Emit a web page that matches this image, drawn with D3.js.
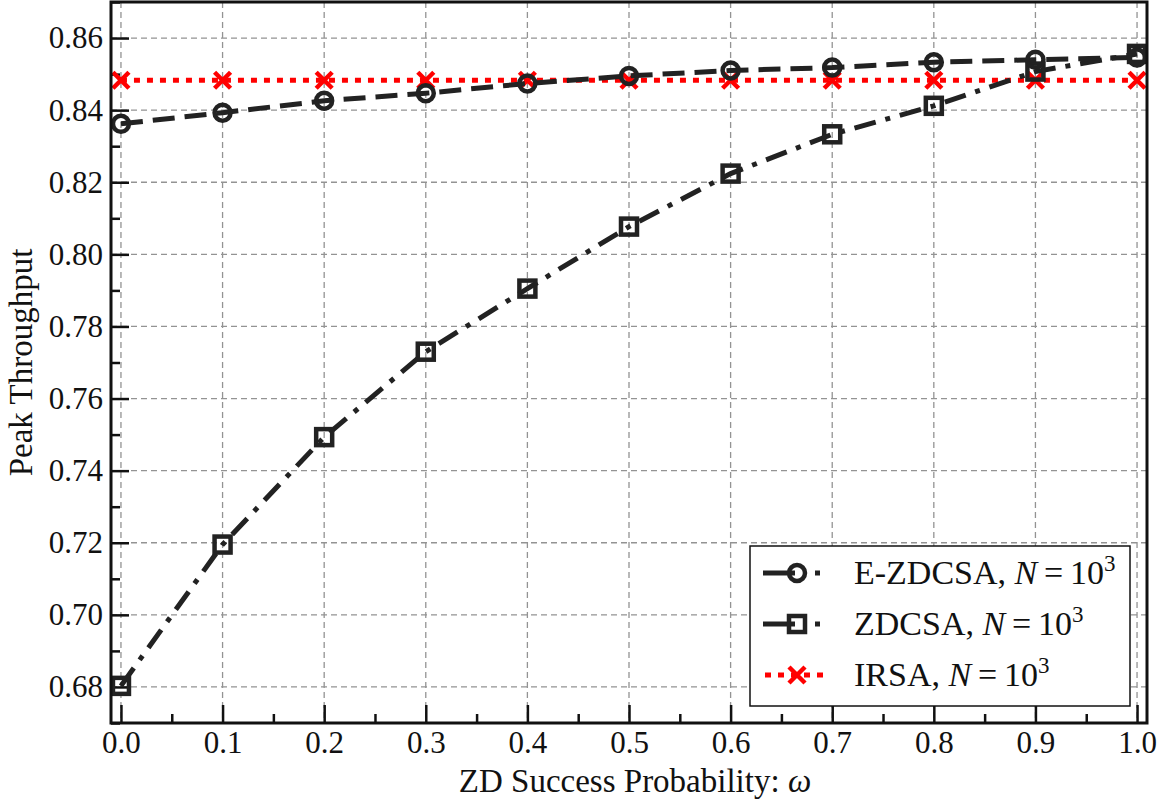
<!DOCTYPE html>
<html>
<head>
<meta charset="utf-8">
<script src="https://cdn.jsdelivr.net/npm/d3@7"></script>
<style>
  body { margin: 0; background: #fff; }
  text { font-family: "Liberation Serif", "DejaVu Serif", serif; }
</style>
</head>
<body>
<svg id="chart" width="1168" height="802"></svg>
<script>
// DATA
const omega = [0.0, 0.1, 0.2, 0.3, 0.4, 0.5, 0.6, 0.7, 0.8, 0.9, 1.0];
const eZdcsa = [0.8362, 0.8393, 0.8426, 0.8447, 0.8474, 0.8495, 0.8510, 0.8518, 0.8533, 0.8540, 0.8546];
const zdcsa = [0.6803, 0.7195, 0.7493, 0.7730, 0.7905, 0.8077, 0.8224, 0.8333, 0.8412, 0.8507, 0.8556];
const irsa = [0.8483, 0.8483, 0.8483, 0.8483, 0.8483, 0.8483, 0.8483, 0.8483, 0.8483, 0.8483, 0.8483];
const xTicks = [0.0, 0.1, 0.2, 0.3, 0.4, 0.5, 0.6, 0.7, 0.8, 0.9, 1.0];
const yTicks = [0.68, 0.70, 0.72, 0.74, 0.76, 0.78, 0.80, 0.82, 0.84, 0.86];

const series = [
  { name: "E-ZDCSA", values: eZdcsa, color: "#222", dash: "22,10", marker: "circle" },
  { name: "ZDCSA", values: zdcsa, color: "#222", dash: "22,10,5,10", marker: "square" },
  { name: "IRSA", values: irsa, color: "#ff0000", dash: "6,7", marker: "cross" },
];

// CANVAS SETUP
const svg = d3.select("#chart");
const margin = { top: 2, right: 21, bottom: 79, left: 111 },
  width = 1168 - margin.left - margin.right,
  height = 802 - margin.top - margin.bottom;

const x = d3.scaleLinear().domain([-0.0098, 1.0098]).range([0, width]);
const y = d3.scaleLinear().domain([0.67, 0.87]).range([height, 0]);

const g = svg.append("g").attr("transform", `translate(${margin.left},${margin.top})`);

// GRID
g.append("g")
  .selectAll("line")
  .data(xTicks)
  .join("line")
  .attr("x1", (d) => x(d))
  .attr("x2", (d) => x(d))
  .attr("y1", 0)
  .attr("y2", height)
  .attr("stroke", "#939393")
  .attr("stroke-width", 1.3)
  .attr("stroke-dasharray", "6,4");

g.append("g")
  .selectAll("line")
  .data(yTicks)
  .join("line")
  .attr("x1", 0)
  .attr("x2", width)
  .attr("y1", (d) => y(d))
  .attr("y2", (d) => y(d))
  .attr("stroke", "#939393")
  .attr("stroke-width", 1.3)
  .attr("stroke-dasharray", "6,4");

// AXES (inward ticks)
const xMinor = d3.range(0, 1.001, 0.05).filter((v) => Math.round(v * 100) % 10 !== 0);
const yMinor = d3.range(0.67, 0.8701, 0.01).filter((v) => Math.round(v * 100) % 2 !== 0);

const xAxis = g.append("g").attr("transform", `translate(0,${height})`)
  .call(d3.axisBottom(x).tickValues(xTicks).tickFormat(d3.format(".1f")).tickSize(-18).tickPadding(8));
const xAxisMinor = g.append("g").attr("transform", `translate(0,${height})`)
  .call(d3.axisBottom(x).tickValues(xMinor).tickFormat("").tickSize(-9));
const yAxis = g.append("g")
  .call(d3.axisLeft(y).tickValues(yTicks).tickFormat(d3.format(".2f")).tickSize(-18).tickPadding(8));
const yAxisMinor = g.append("g")
  .call(d3.axisLeft(y).tickValues(yMinor).tickFormat("").tickSize(-9));

[xAxis, xAxisMinor, yAxis, yAxisMinor].forEach((ax) => {
  ax.attr("font-size", null).attr("font-family", null);
  ax.select(".domain").remove();
  ax.selectAll(".tick line").attr("stroke", "#111").attr("stroke-width", 2.5);
  ax.selectAll(".tick text").attr("fill", "#111").attr("font-size", 31);
});
yAxis.selectAll(".tick text").attr("x", -8);
xAxis.selectAll(".tick text").attr("dy", "0.71em");

// LINES
const line = d3.line()
  .x((d, i) => x(omega[i]))
  .y((d) => y(d));

function drawMarker(sel, type, color) {
  if (type === "circle") {
    sel.append("circle").attr("r", 8).attr("fill", "none")
      .attr("stroke", color).attr("stroke-width", 4.5);
  } else if (type === "square") {
    sel.append("rect").attr("x", -8).attr("y", -8).attr("width", 16).attr("height", 16)
      .attr("fill", "none").attr("stroke", color).attr("stroke-width", 4.5);
  } else {
    sel.append("path").attr("d", "M-8,-8L8,8M-8,8L8,-8")
      .attr("fill", "none").attr("stroke", color).attr("stroke-width", 4.5);
  }
}

const plot = g.append("g");
series.slice().reverse().forEach((s) => {
  plot.append("path")
    .datum(s.values)
    .attr("d", line)
    .attr("fill", "none")
    .attr("stroke", s.color)
    .attr("stroke-width", 5)
    .attr("stroke-dasharray", s.dash);
  plot.append("g")
    .selectAll("g")
    .data(s.values)
    .join("g")
    .attr("transform", (d, i) => `translate(${x(omega[i])},${y(d)})`)
    .each(function () { drawMarker(d3.select(this), s.marker, s.color); });
});

// FRAME
g.append("rect")
  .attr("width", width)
  .attr("height", height)
  .attr("fill", "none")
  .attr("stroke", "#111")
  .attr("stroke-width", 3);

// LEGEND
const legend = g.append("g").attr("transform", `translate(${750 - margin.left},${546 - margin.top})`);
legend.append("rect")
  .attr("width", 380)
  .attr("height", 160)
  .attr("fill", "#fff")
  .attr("stroke", "#111")
  .attr("stroke-width", 1.5);

const rows = legend.selectAll("g.row")
  .data(series)
  .join("g")
  .attr("class", "row")
  .attr("transform", (d, i) => `translate(0,${27 + i * 51})`);

rows.append("line")
  .attr("x1", (d) => d.marker === "cross" ? 15 : 13)
  .attr("x2", 78)
  .attr("stroke", (d) => d.color)
  .attr("stroke-width", 5)
  .attr("stroke-dasharray", (d) => d.marker === "cross" ? "6,7" : "32,20,5,8");
rows.each(function (d) {
  const m = d3.select(this).append("g").attr("transform", "translate(47,0)");
  drawMarker(m, d.marker, d.color);
});

const labels = rows.append("text")
  .attr("x", 104)
  .attr("y", 11)
  .attr("fill", "#111")
  .attr("font-size", 34);
labels.append("tspan").text((d) => d.name + ", ");
labels.append("tspan").attr("font-style", "italic").text("N");
labels.append("tspan").text("\u2009=\u200910");
labels.append("tspan").attr("dy", -13).attr("font-size", 23).text("3");

// AXIS LABELS
svg.append("text")
  .attr("x", margin.left + width / 2 + 6)
  .attr("y", 792)
  .attr("text-anchor", "middle")
  .attr("fill", "#111")
  .attr("font-size", 33)
  .call((t) => {
    t.append("tspan").text("ZD Success Probability: ");
    t.append("tspan").attr("font-style", "italic").text("ω");
  });

svg.append("text")
  .attr("transform", `translate(32,${margin.top + height / 2}) rotate(-90)`)
  .attr("text-anchor", "middle")
  .attr("fill", "#111")
  .attr("font-size", 33)
  .text("Peak Throughput");
</script>
</body>
</html>
